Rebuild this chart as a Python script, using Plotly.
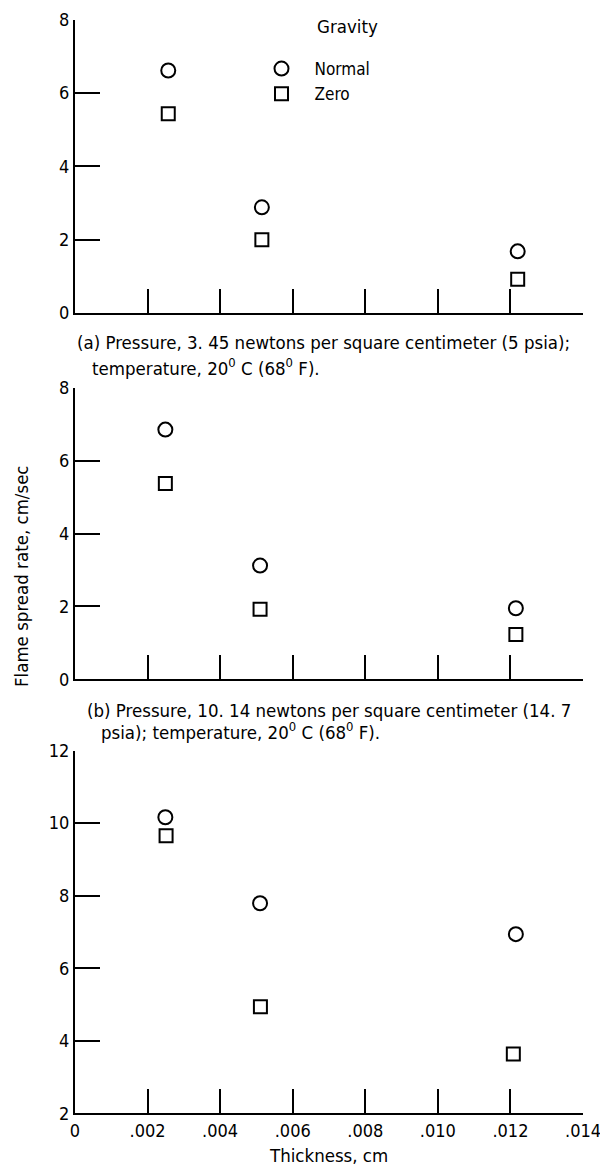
import plotly.graph_objects as go

# ---------------- data ----------------
x_tick_vals = [0, 0.002, 0.004, 0.006, 0.008, 0.010, 0.012, 0.014]
x_tick_text = ["0", ".002", ".004", ".006", ".008", ".010", ".012", ".014"]

y_ticks_ab = [0, 2, 4, 6, 8]
y_ticks_c = [2, 4, 6, 8, 10, 12]

# panel (a): 3.45 N/cm2 (5 psia)
thickness_a = [0.00257, 0.00515, 0.0122]
normal_a = [6.61, 2.88, 1.68]
zero_a = [5.43, 2.00, 0.92]

# panel (b): 10.14 N/cm2 (14.7 psia)
thickness_b = [0.00249, 0.00510, 0.01215]
normal_b = [6.85, 3.12, 1.95]
zero_b = [5.37, 1.92, 1.23]

# panel (c)
thickness_c = [0.00249, 0.00510, 0.01215]
thickness_c_zero = [0.00251, 0.00511, 0.01208]
normal_c = [10.16, 7.79, 6.94]
zero_c = [9.65, 4.94, 3.64]

series_names = ["Normal", "Zero"]

# ---------------- layout helpers ----------------
W, H = 600, 1167
FONT = "DejaVu Sans Condensed, Liberation Sans Narrow, Arial Narrow, sans-serif"
FS = 18.5
TFS = 18


def py(px):
    return 1 - px / H


def pxx(px):
    return px / W


fig = go.Figure()

circle = dict(symbol="circle-open", size=14, color="black", line=dict(width=2, color="black"))
square = dict(symbol="square-open", size=13, color="black", line=dict(width=2, color="black"))

panels = [
    ("x", "y", thickness_a, thickness_a, normal_a, zero_a, True),
    ("x2", "y2", thickness_b, thickness_b, normal_b, zero_b, False),
    ("x3", "y3", thickness_c, thickness_c_zero, normal_c, zero_c, False),
]
for xa, ya, xn, xz, yn, yz, show in panels:
    fig.add_trace(go.Scatter(x=xn, y=yn, mode="markers", marker=circle, name=series_names[0],
                             xaxis=xa, yaxis=ya, showlegend=show, cliponaxis=False))
    fig.add_trace(go.Scatter(x=xz, y=yz, mode="markers", marker=square, name=series_names[1],
                             xaxis=xa, yaxis=ya, showlegend=show, cliponaxis=False))

xdom = [pxx(75), pxx(583)]
common_x = dict(range=[0, 0.014], domain=xdom, showline=True, linecolor="black", linewidth=2,
                ticks="inside", ticklen=24, tickwidth=2, tickcolor="black",
                tickvals=x_tick_vals, ticktext=x_tick_text, showgrid=False, zeroline=False,
                automargin=False, ticklabeloverflow="allow",
                tickfont=dict(family=FONT, size=TFS, color="black"))
common_y = dict(showline=True, linecolor="black", linewidth=2, ticks="inside", ticklen=25,
                tickwidth=2, tickcolor="black", showgrid=False, zeroline=False,
                automargin=False, ticklabeloverflow="allow",
                tickfont=dict(family=FONT, size=TFS, color="black"))

fig.update_layout(
    template="none",
    xaxis=dict(common_x, anchor="y", showticklabels=False),
    yaxis=dict(common_y, anchor="x", range=[0, 8], tickvals=y_ticks_ab,
               domain=[py(313), py(19.5)]),
    xaxis2=dict(common_x, anchor="y2", showticklabels=False),
    yaxis2=dict(common_y, anchor="x2", range=[0, 8], tickvals=y_ticks_ab,
                domain=[py(679.3), py(387.7)]),
    xaxis3=dict(common_x, anchor="y3", showticklabels=True),
    yaxis3=dict(common_y, anchor="x3", range=[2, 12], tickvals=y_ticks_c,
                domain=[py(1113.4), py(750.5)]),
)

ann = []


def text(x, y, s, anchor="left", angle=0):
    ann.append(dict(x=pxx(x), y=py(y), xref="paper", yref="paper", text=s, showarrow=False,
                    xanchor=anchor, yanchor="middle", textangle=angle,
                    font=dict(family=FONT, size=FS, color="black")))


text(315, 26.7, "Gravity")
text(75, 342, "(a) Pressure, 3. 45 newtons per square centimeter (5 psia);")
text(90, 367, "temperature, 20<sup>0</sup> C (68<sup>0</sup> F).")
text(85, 710, "(b) Pressure, 10. 14 newtons per square centimeter (14. 7")
text(99, 731, "psia); temperature, 20<sup>0</sup> C (68<sup>0</sup> F).")
text(328, 1155, "Thickness, cm", anchor="center")
text(21, 576, "Flame spread rate, cm/sec", anchor="center", angle=-90)

fig.update_layout(
    annotations=ann,
    width=W, height=H,
    margin=dict(l=0, r=0, t=0, b=0),
    paper_bgcolor="white", plot_bgcolor="white",
    font=dict(family=FONT, size=FS, color="black"),
    showlegend=True,
    legend=dict(x=pxx(248.5), y=py(51), xanchor="left", yanchor="top",
                bgcolor="rgba(0,0,0,0)", borderwidth=0, itemwidth=56,
                tracegroupgap=0, font=dict(family=FONT, size=17, color="black")),
)

fig.write_html("out.html", config={"displayModeBar": False},
               post_script="document.body.style.margin='0';document.body.style.padding='0';")
